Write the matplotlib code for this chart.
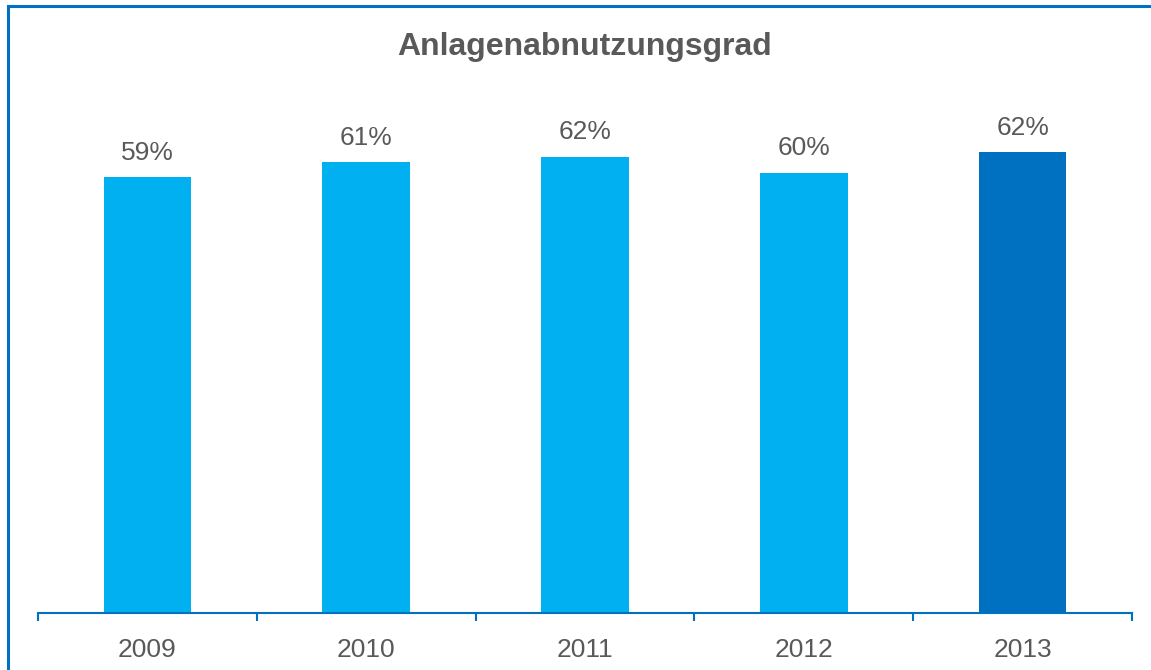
import matplotlib
matplotlib.use("Agg")
import matplotlib.pyplot as plt
from matplotlib.patches import Rectangle
import numpy as np

years = ["2009", "2010", "2011", "2012", "2013"]
values = [59.0, 61.0, 61.8, 59.6, 62.4]
labels = ["59%", "61%", "62%", "60%", "62%"]
colors = ["#00B0F0", "#00B0F0", "#00B0F0", "#00B0F0", "#0070C0"]

plt.rcParams['font.family'] = ['Liberation Sans', 'DejaVu Sans']
W, H = 1151, 670
fig = plt.figure(figsize=(W/100, H/100), dpi=100)

ax_left, ax_right = 38, 1132
ax_bottom, ax_top = 613, 96
ax = fig.add_axes([ax_left/W, 1 - ax_bottom/H, (ax_right-ax_left)/W, (ax_bottom-ax_top)/H])

x = np.arange(len(years))
ax.bar(x, values, width=0.4, color=colors)
for xi, v, lab in zip(x, values, labels):
    ax.annotate(lab, (xi, v), xytext=(0, 9), textcoords="offset points",
                ha="center", va="bottom", fontsize=19, color="#595959")

ax.set_xlim(-0.5, len(years) - 0.5)
ax.set_ylim(0, 70)
for s in ["top", "right", "left"]:
    ax.spines[s].set_visible(False)
ax.spines["bottom"].set_color("#0070C0")
ax.spines["bottom"].set_linewidth(1.5)
ax.set_yticks([])
ax.set_xticks(x)
ax.set_xticklabels(years, fontsize=19, color="#595959")
ax.tick_params(axis="x", which="major", length=0, pad=18)
ax.set_xticks(np.arange(-0.5, len(years)), minor=True)
ax.tick_params(axis="x", which="minor", length=6, width=1.5, color="#0070C0", direction="out")

fig.text(585/W, 1 - 47/H, "Anlagenabnutzungsgrad", ha="center", va="center",
         fontsize=23, fontweight="bold", color="#595959")

fig.patches.append(Rectangle((8/W, -0.1), 1.2, 1 - 6/H + 0.1, transform=fig.transFigure,
                             fill=False, edgecolor="#0070C0", linewidth=2.2))

fig.savefig("out.png", dpi=100)
